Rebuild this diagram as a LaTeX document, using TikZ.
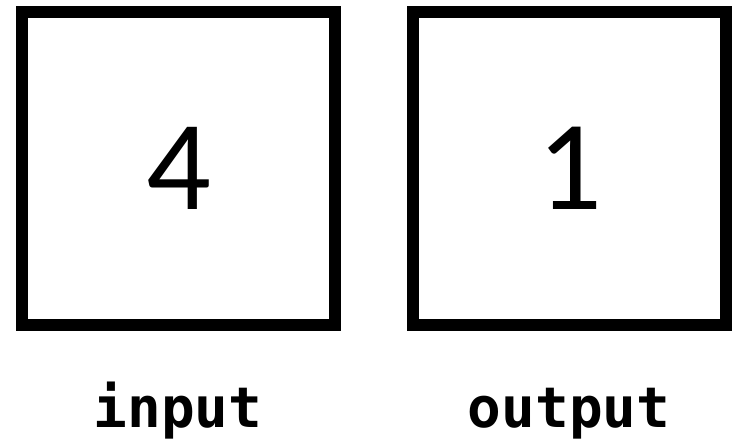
\documentclass[tikz,border=0pt]{standalone}
\usepackage{fontspec}
\setmainfont{Carlito}
\newfontfamily\labfont{DejaVu Sans Mono}
\begin{document}
\begin{tikzpicture}[x=1pt,y=-1pt,
  cell/.style={draw=black,line width=12pt,minimum width=313pt,minimum height=313pt,inner sep=0pt,font=\fontsize{128}{150}\selectfont},
  lab/.style={font=\labfont\bfseries\fontsize{56}{66}\selectfont,anchor=base,inner sep=0pt}]
\useasboundingbox (0,0) rectangle (738,444);
\node[cell] (in) at (178.5,168.5) {4};
\node[cell] (out) at (569.5,168.5) {1};
\node[lab] (inl) at (178,427) {input};
\node[lab] (outl) at (569,427) {output};
\end{tikzpicture}
\end{document}
